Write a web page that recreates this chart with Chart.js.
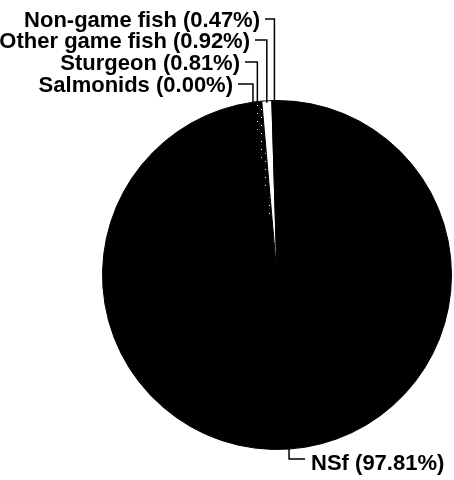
<!DOCTYPE html>
<html>
<head>
<meta charset="utf-8">
<script src="https://cdn.jsdelivr.net/npm/chart.js@4/dist/chart.umd.min.js"></script>
<style>
    html, body { margin: 0; padding: 0; background: #fff; }
    #catch-chart { display: block; }
</style>
</head>
<body>
<canvas id="catch-chart" width="454" height="480"></canvas>
<script>
// --- DATOS ---
const categories = ['NSf', 'Salmonids', 'Sturgeon', 'Other game fish', 'Non-game fish'];
const percentages = [97.81, 0.00, 0.81, 0.92, 0.47];

// Posición de las etiquetas (borde derecho del texto y línea base)
const labelRight = [null, 233, 240, 250, 260];
const labelBaseline = [470, 92, 70, 48, 27];

const FONT = 'bold 22px "Liberation Sans", Arial, sans-serif';

// Trama de puntos blancos sobre negro para Sturgeon
const makeDotPattern = () => {
    const c = document.createElement('canvas');
    c.width = 8;
    c.height = 8;
    const g = c.getContext('2d');
    g.fillStyle = '#000';
    g.fillRect(0, 0, 8, 8);
    g.fillStyle = '#fff';
    g.fillRect(1, 1, 1, 1);
    g.fillRect(5, 5, 1, 1);
    return g.createPattern(c, 'repeat');
};

const sliceColors = ['#000', '#000', makeDotPattern(), '#fff', '#000'];

const fmt = (v) => `${v.toFixed(2)}%`;

// Etiquetas con líneas guía
const leaderLabels = {
    id: 'leaderLabels',
    afterDraw(chart) {
        const { ctx } = chart;
        const arcs = chart.getDatasetMeta(0).data;
        ctx.save();
        ctx.font = FONT;
        ctx.fillStyle = '#000';
        ctx.strokeStyle = '#000';
        ctx.lineWidth = 1.5;
        ctx.textBaseline = 'alphabetic';

        arcs.forEach((arc, i) => {
            const { x, y, startAngle, endAngle, outerRadius } =
                arc.getProps(['x', 'y', 'startAngle', 'endAngle', 'outerRadius'], true);
            const mid = (startAngle + endAngle) / 2;
            const px = x + Math.cos(mid) * outerRadius;
            const py = y + Math.sin(mid) * outerRadius;
            const text = `${categories[i]} (${fmt(percentages[i])})`;

            if (i === 0) {
                // NSf: guía hacia abajo y a la derecha
                const ly = labelBaseline[i] - 11;
                ctx.beginPath();
                ctx.moveTo(px, py - 2);
                ctx.lineTo(px, ly);
                ctx.lineTo(px + 16, ly);
                ctx.stroke();
                ctx.textAlign = 'left';
                ctx.fillText(text, px + 22, labelBaseline[i]);
                return;
            }

            const ly = labelBaseline[i] - 8;
            ctx.beginPath();
            ctx.moveTo(labelRight[i] + 5, ly);
            ctx.lineTo(px, ly);
            ctx.lineTo(px, py + 2);
            ctx.stroke();
            ctx.textAlign = 'right';
            ctx.fillText(text, labelRight[i], labelBaseline[i]);
        });
        ctx.restore();
    }
};

new Chart(document.querySelector('#catch-chart'), {
    type: 'pie',
    data: {
        labels: categories,
        datasets: [{
            data: percentages,
            backgroundColor: sliceColors,
            borderColor: '#000',
            borderWidth: 1,
        }]
    },
    options: {
        responsive: false,
        animation: false,
        layout: { padding: { left: 102, right: 2, top: 100, bottom: 30 } },
        plugins: {
            legend: { display: false },
            tooltip: { enabled: false }
        }
    },
    plugins: [leaderLabels]
});
</script>
</body>
</html>
